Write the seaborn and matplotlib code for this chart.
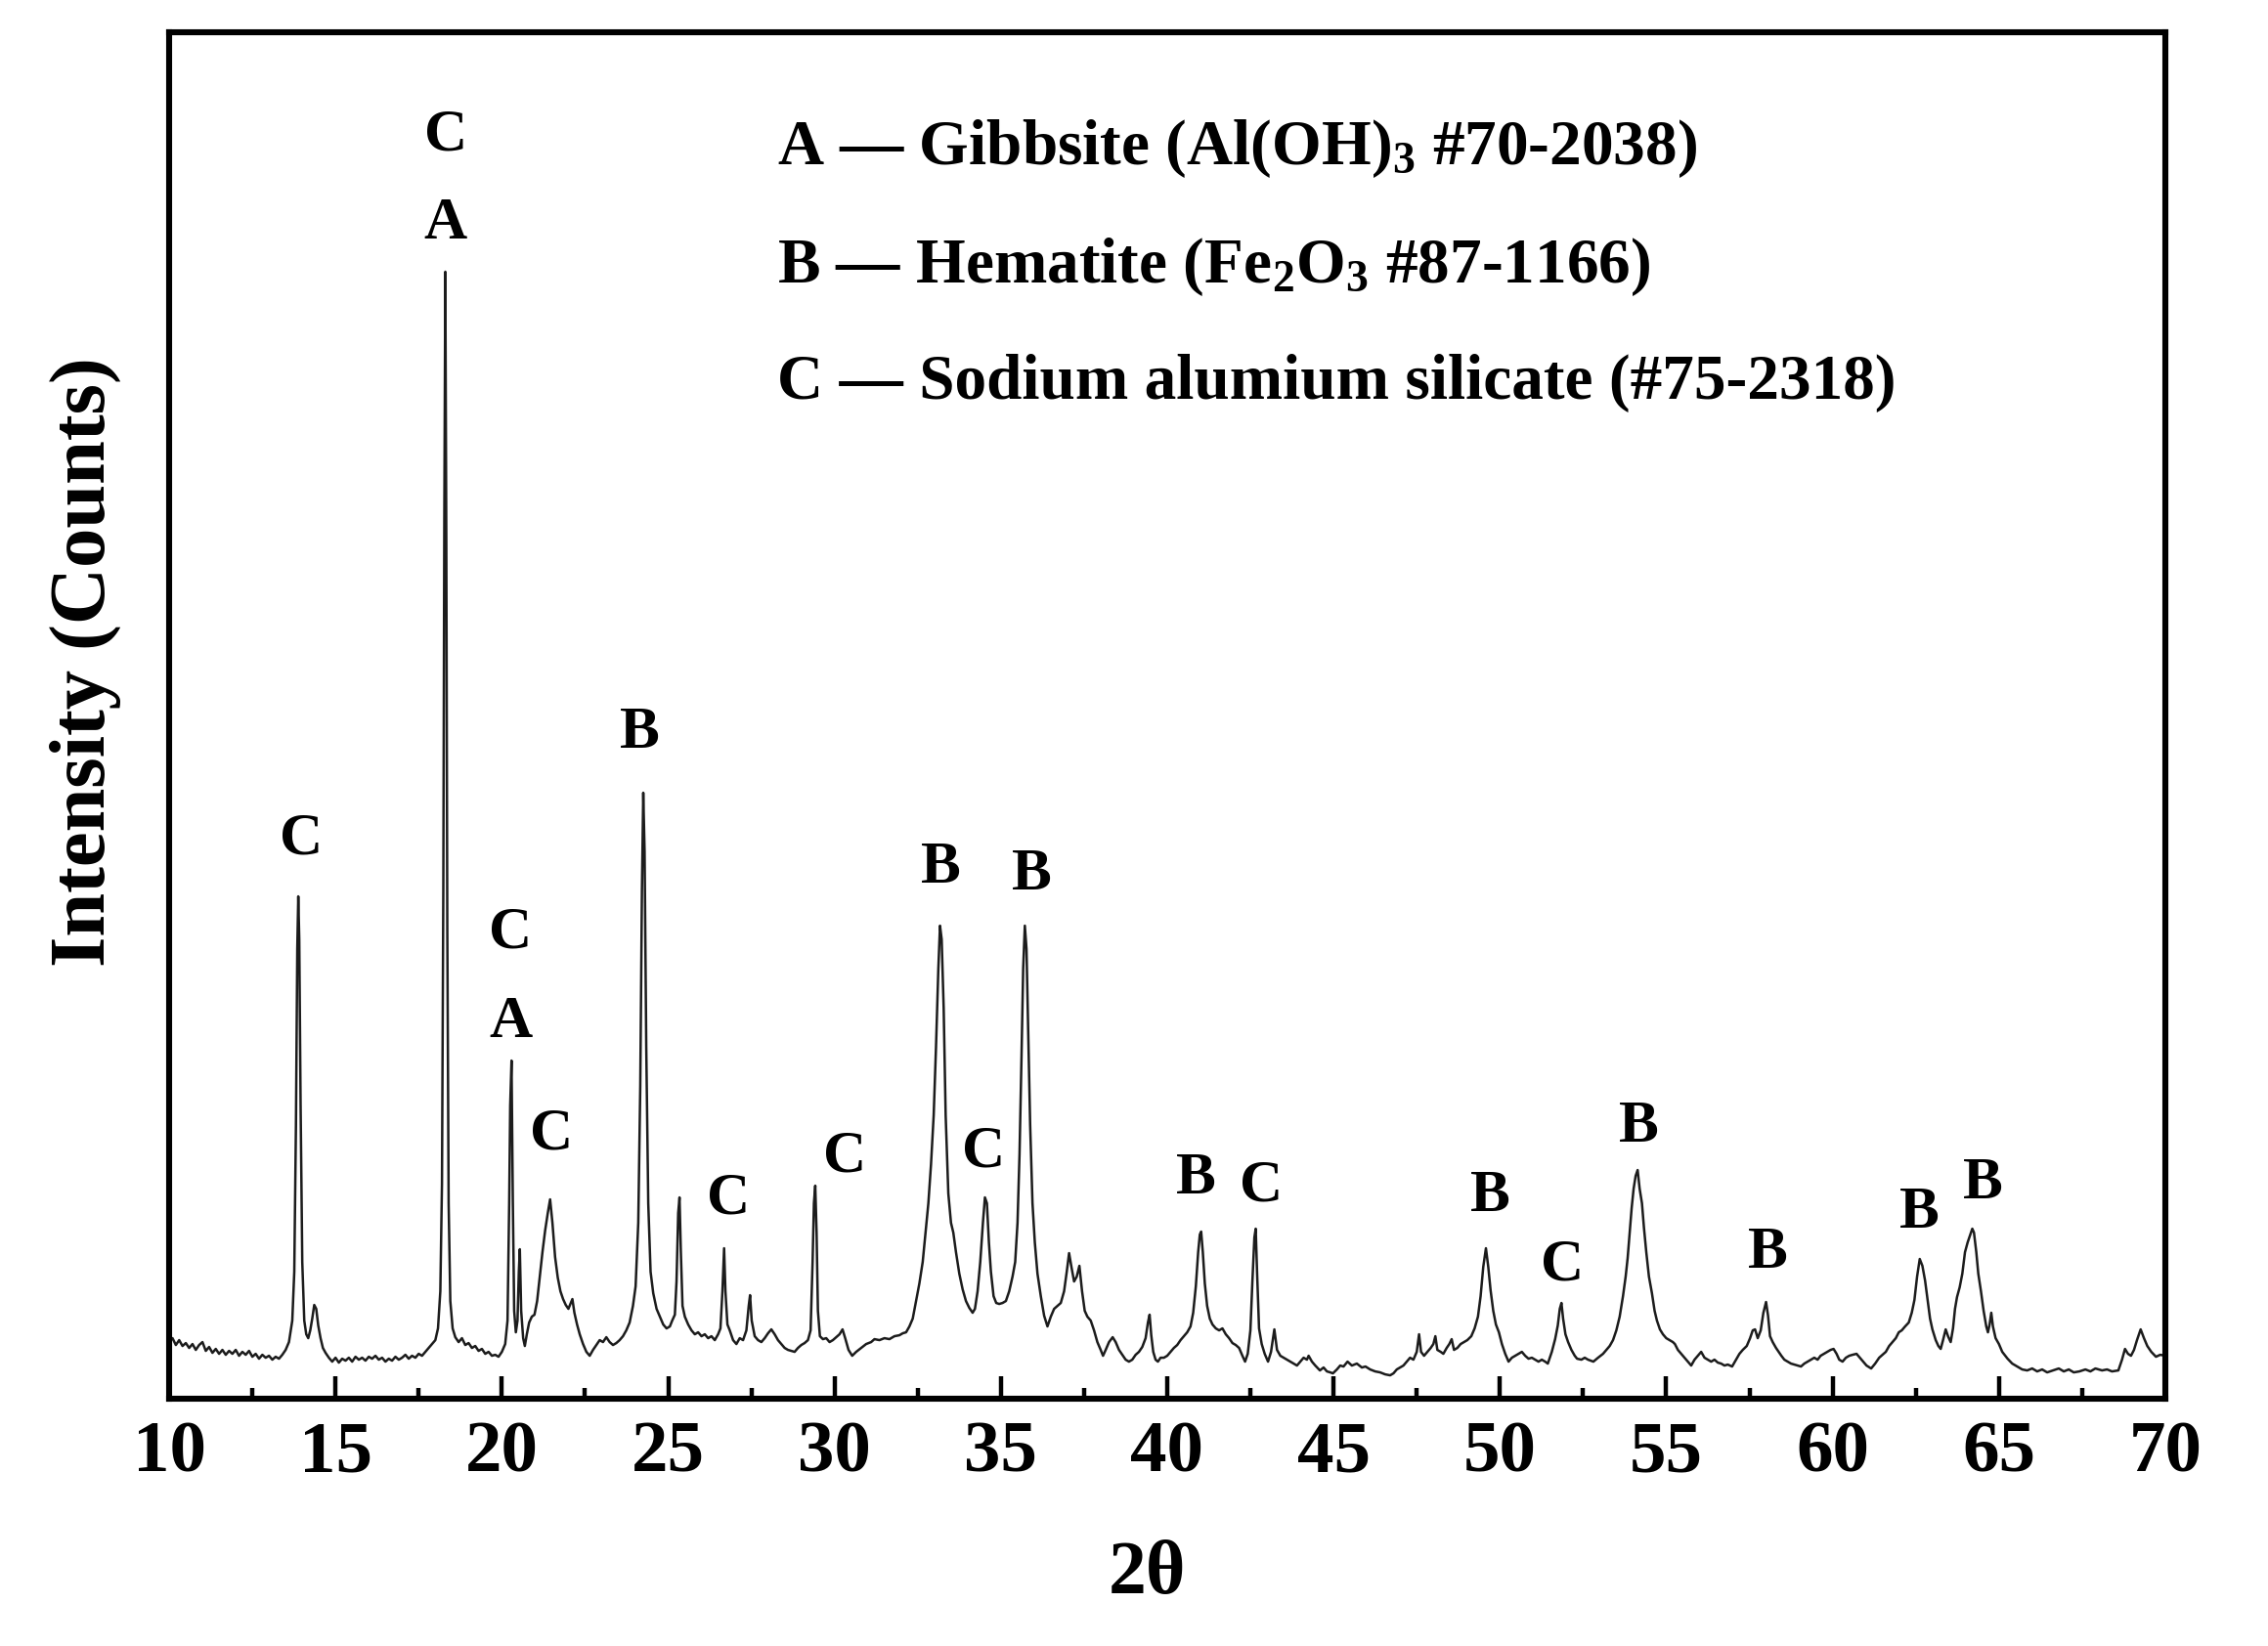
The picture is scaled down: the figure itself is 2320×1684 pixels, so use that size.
import matplotlib
matplotlib.use('Agg')
import matplotlib.pyplot as plt
from matplotlib.ticker import MultipleLocator
import seaborn as sns

# XRD pattern (2theta in degrees, intensity in arbitrary counts)
two_theta = [
    10.0, 10.1, 10.2, 10.3, 10.4, 10.5, 10.6, 10.7, 10.8, 10.9,
    11.0, 11.1, 11.2, 11.3, 11.4, 11.5, 11.6, 11.7, 11.8, 11.9,
    12.0, 12.1, 12.2, 12.3, 12.4, 12.5, 12.6, 12.7, 12.8, 12.9,
    13.0, 13.1, 13.2, 13.3, 13.4, 13.5, 13.6, 13.7, 13.76, 13.81,
    13.85, 13.88, 13.91, 13.95, 14.0, 14.06, 14.12, 14.18, 14.24, 14.3,
    14.36, 14.42, 14.48, 14.55, 14.62, 14.7, 14.8, 14.9, 15.0, 15.1,
    15.2, 15.3, 15.4, 15.5, 15.6, 15.7, 15.8, 15.9, 16.0, 16.1,
    16.2, 16.3, 16.4, 16.5, 16.6, 16.7, 16.8, 16.9, 17.0, 17.1,
    17.2, 17.3, 17.4, 17.5, 17.6, 17.7, 17.8, 17.9, 18.0, 18.08,
    18.15, 18.2, 18.24, 18.27, 18.3, 18.33, 18.36, 18.4, 18.45, 18.52,
    18.6, 18.7, 18.8, 18.9, 19.0, 19.1, 19.2, 19.3, 19.4, 19.5,
    19.6, 19.7, 19.8, 19.9, 20.0, 20.1, 20.17, 20.22, 20.25, 20.29,
    20.33, 20.37, 20.42, 20.47, 20.51, 20.54, 20.58, 20.64, 20.69, 20.75,
    20.82, 20.9, 20.98, 21.06, 21.14, 21.22, 21.3, 21.38, 21.45, 21.52,
    21.6, 21.68, 21.76, 21.84, 21.92, 22.0, 22.07, 22.12, 22.18, 22.26,
    22.34, 22.44, 22.54, 22.64, 22.74, 22.84, 22.94, 23.04, 23.14, 23.24,
    23.34, 23.44, 23.54, 23.64, 23.74, 23.84, 23.94, 24.02, 24.1, 24.16,
    24.21, 24.25, 24.29, 24.34, 24.4, 24.47, 24.55, 24.65, 24.75, 24.85,
    24.95, 25.05, 25.12, 25.2, 25.25, 25.3, 25.34, 25.38, 25.43, 25.5,
    25.6, 25.7, 25.8, 25.9, 26.0, 26.1, 26.2, 26.3, 26.4, 26.5,
    26.57, 26.63, 26.68, 26.72, 26.78, 26.85, 26.95, 27.05, 27.15, 27.25,
    27.35, 27.42, 27.46, 27.51, 27.6, 27.7, 27.8, 27.9, 28.0, 28.1,
    28.2, 28.3, 28.4, 28.5, 28.6, 28.7, 28.8, 28.9, 29.0, 29.1,
    29.2, 29.28, 29.34, 29.38, 29.42, 29.46, 29.5, 29.56, 29.65, 29.75,
    29.85, 29.95, 30.05, 30.15, 30.24, 30.32, 30.42, 30.53, 30.65, 30.8,
    30.95, 31.1, 31.2, 31.35, 31.5, 31.65, 31.8, 31.95, 32.05, 32.15,
    32.25, 32.35, 32.45, 32.55, 32.65, 32.73, 32.82, 32.9, 32.98, 33.05,
    33.12, 33.17, 33.22, 33.28, 33.34, 33.42, 33.5, 33.57, 33.65, 33.75,
    33.85, 33.95, 34.05, 34.15, 34.22, 34.3, 34.38, 34.46, 34.52, 34.58,
    34.64, 34.7, 34.78, 34.86, 34.95, 35.05, 35.15, 35.25, 35.35, 35.43,
    35.5, 35.56, 35.62, 35.67, 35.72, 35.77, 35.82, 35.88, 35.95, 36.02,
    36.1, 36.2, 36.3, 36.4, 36.5, 36.6, 36.7, 36.8, 36.9, 36.98,
    37.05, 37.12, 37.2, 37.28, 37.36, 37.44, 37.52, 37.6, 37.7, 37.8,
    37.9, 38.0, 38.07, 38.15, 38.25, 38.36, 38.45, 38.55, 38.65, 38.75,
    38.85, 38.95, 39.05, 39.15, 39.25, 39.35, 39.42, 39.47, 39.52, 39.58,
    39.65, 39.72, 39.8, 39.9, 40.0, 40.1, 40.2, 40.3, 40.4, 40.5,
    40.6, 40.7, 40.78, 40.86, 40.93, 40.98, 41.02, 41.07, 41.13, 41.2,
    41.28, 41.36, 41.46, 41.56, 41.66, 41.76, 41.86, 41.96, 42.06, 42.16,
    42.26, 42.34, 42.42, 42.5, 42.56, 42.62, 42.66, 42.7, 42.76, 42.84,
    42.93, 43.03, 43.12, 43.22, 43.3, 43.4, 43.5, 43.6, 43.7, 43.8,
    43.9, 44.0, 44.1, 44.2, 44.25, 44.35, 44.45, 44.59, 44.7, 44.8,
    44.9, 44.98, 45.1, 45.2, 45.3, 45.42, 45.55, 45.7, 45.85, 45.96,
    46.1, 46.25, 46.4, 46.55, 46.7, 46.8, 46.9, 47.0, 47.1, 47.2,
    47.3, 47.4, 47.5, 47.57, 47.63, 47.72, 47.82, 47.92, 48.0, 48.06,
    48.12, 48.22, 48.3, 48.4, 48.48, 48.55, 48.62, 48.72, 48.82, 48.92,
    49.02, 49.14, 49.24, 49.34, 49.42, 49.5, 49.58, 49.65, 49.72, 49.8,
    49.88, 49.97, 50.06, 50.16, 50.26, 50.36, 50.46, 50.56, 50.66, 50.76,
    50.86, 50.96, 51.06, 51.16, 51.26, 51.36, 51.44, 51.56, 51.66, 51.74,
    51.8, 51.85, 51.9, 51.97, 52.05, 52.15, 52.25, 52.32, 52.45, 52.55,
    52.65, 52.81, 52.95, 53.1, 53.2, 53.3, 53.4, 53.5, 53.6, 53.7,
    53.78, 53.84, 53.9, 53.96, 54.02, 54.08, 54.14, 54.2, 54.27, 54.33,
    54.4, 54.48, 54.57, 54.65, 54.72, 54.81, 54.9, 55.0, 55.1, 55.2,
    55.26, 55.35, 55.45, 55.55, 55.65, 55.75, 55.85, 55.95, 56.05, 56.15,
    56.25, 56.35, 56.45, 56.55, 56.65, 56.75, 56.85, 56.98, 57.1, 57.2,
    57.3, 57.42, 57.52, 57.6, 57.67, 57.75, 57.84, 57.92, 58.0, 58.06,
    58.12, 58.2, 58.3, 58.38, 58.46, 58.55, 58.65, 58.75, 58.85, 58.95,
    59.05, 59.15, 59.25, 59.35, 59.45, 59.55, 59.64, 59.74, 59.84, 59.94,
    60.03, 60.12, 60.2, 60.3, 60.4, 60.5, 60.6, 60.72, 60.82, 60.92,
    61.02, 61.16, 61.28, 61.4, 61.5, 61.6, 61.7, 61.8, 61.9, 61.99,
    62.08, 62.18, 62.29, 62.38, 62.46, 62.54, 62.62, 62.7, 62.78, 62.86,
    62.93, 63.0, 63.1, 63.18, 63.25, 63.32, 63.4, 63.47, 63.55, 63.62,
    63.68, 63.74, 63.82, 63.9, 63.98, 64.06, 64.14, 64.2, 64.25, 64.32,
    64.38, 64.46, 64.54, 64.62, 64.67, 64.72, 64.77, 64.82, 64.9, 65.0,
    65.1, 65.26, 65.4, 65.55, 65.7, 65.85, 66.0, 66.15, 66.3, 66.45,
    66.63, 66.8, 66.95, 67.1, 67.25, 67.42, 67.6, 67.75, 67.9, 68.1,
    68.25, 68.4, 68.59, 68.7, 68.79, 68.88, 68.97, 69.06, 69.15, 69.26,
    69.36, 69.46, 69.58, 69.72, 69.85, 70.0,
]
counts = [
    58, 62, 55, 60, 54, 57, 52, 56, 50, 55,
    58, 49, 53, 47, 51, 46, 50, 45, 49, 46,
    50, 44, 48, 45, 49, 43, 46, 41, 45, 42,
    44, 40, 43, 41, 45, 50, 58, 80, 130, 280,
    460, 514, 470, 300, 140, 80, 66, 62, 70, 82,
    96, 92, 75, 62, 52, 47, 42, 38, 42, 37,
    41, 39, 42, 38, 43, 40, 42, 39, 43, 41,
    44, 40, 42, 38, 41, 39, 43, 40, 42, 45,
    41, 44, 42, 46, 44, 48, 52, 56, 60, 72,
    110, 220, 520, 900, 1153, 880, 480, 200, 100, 72,
    63, 58, 62, 55, 57, 52, 54, 49, 51, 46,
    48, 44, 45, 43, 48, 56, 80, 200, 300, 346,
    200, 90, 68, 80, 130, 153, 90, 62, 54, 66,
    78, 84, 86, 100, 125, 150, 172, 190, 204, 180,
    145, 124, 110, 102, 96, 92, 98, 102, 88, 76,
    66, 56, 48, 44, 50, 55, 60, 58, 63, 58,
    55, 57, 60, 64, 70, 78, 95, 115, 180, 320,
    520, 620, 560, 360, 200, 130, 108, 92, 84, 76,
    72, 74, 80, 86, 120, 190, 206, 150, 95, 84,
    76, 70, 66, 68, 64, 66, 62, 64, 60, 66,
    72, 110, 154, 110, 76, 70, 60, 56, 62, 60,
    70, 95, 106, 80, 64, 60, 58, 62, 67, 71,
    66, 60, 56, 52, 50, 49, 48, 52, 55, 57,
    60, 70, 140, 200, 218, 170, 90, 64, 61, 62,
    58, 60, 63, 66, 71, 62, 50, 44, 48, 52,
    56, 58, 61, 60, 62, 61, 64, 65, 67, 68,
    74, 82, 100, 118, 140, 168, 200, 240, 290, 360,
    440, 484, 470, 400, 290, 210, 180, 170, 150, 128,
    112, 100, 93, 88, 92, 110, 140, 180, 206, 200,
    160, 130, 105, 98, 97, 98, 100, 110, 125, 140,
    180, 250, 350, 440, 484, 460, 380, 280, 200, 160,
    128, 105, 85, 74, 84, 92, 95, 98, 110, 130,
    149, 135, 120, 125, 136, 110, 90, 84, 80, 70,
    58, 50, 44, 50, 58, 63, 58, 50, 45, 40,
    38, 40, 45, 48, 53, 62, 78, 86, 65, 48,
    40, 38, 42, 42, 44, 48, 52, 55, 60, 64,
    68, 74, 88, 115, 150, 168, 171, 150, 118, 95,
    82, 76, 72, 70, 72, 66, 62, 57, 55, 52,
    44, 38, 46, 70, 120, 165, 174, 130, 72, 56,
    46, 38, 48, 71, 50, 44, 42, 40, 38, 36,
    34, 38, 42, 40, 44, 38, 34, 29, 32, 28,
    27, 26, 30, 34, 33, 38, 34, 36, 32, 33,
    30, 28, 27, 25, 24, 26, 30, 32, 34, 38,
    42, 40, 48, 66, 48, 44, 48, 52, 56, 64,
    50, 48, 46, 52, 56, 61, 50, 52, 56, 58,
    60, 64, 72, 84, 105, 135, 154, 135, 111, 90,
    76, 68, 56, 46, 38, 42, 44, 46, 48, 44,
    41, 42, 40, 38, 40, 38, 36, 48, 61, 75,
    92, 98, 82, 66, 58, 50, 44, 41, 40, 42,
    40, 38, 42, 46, 50, 54, 60, 70, 84, 105,
    125, 144, 170, 195, 215, 228, 234, 215, 200, 175,
    150, 125, 108, 90, 80, 71, 66, 62, 60, 58,
    56, 50, 46, 42, 38, 34, 40, 44, 48, 42,
    40, 38, 40, 37, 36, 34, 35, 33, 40, 46,
    50, 54, 62, 70, 71, 62, 70, 88, 99, 85,
    64, 58, 52, 48, 44, 40, 38, 36, 35, 34,
    33, 36, 38, 40, 42, 40, 44, 46, 48, 50,
    51, 46, 40, 38, 42, 44, 45, 46, 42, 38,
    34, 31, 36, 42, 45, 48, 54, 58, 62, 68,
    70, 74, 78, 88, 101, 125, 143, 136, 121, 100,
    82, 71, 60, 54, 51, 60, 71, 64, 58, 72,
    92, 104, 114, 128, 150, 160, 168, 174, 170, 150,
    128, 110, 90, 74, 68, 76, 88, 74, 62, 56,
    48, 41, 36, 33, 30, 29, 31, 28, 30, 27,
    29, 31, 28, 30, 27, 28, 30, 28, 31, 29,
    30, 28, 29, 40, 51, 46, 44, 50, 60, 71,
    62, 54, 48, 43, 45, 44,
]

# phase letters over the peaks
peak_letters = ['C', 'C', 'A', 'C', 'A', 'C', 'B', 'C', 'C', 'B',
                'C', 'B', 'B', 'C', 'B', 'C', 'B', 'B', 'B', 'B']
letter_x = [13.96, 18.31, 18.31, 20.26, 20.26, 21.5, 24.13, 26.82, 30.3, 33.18,
            34.47, 35.92, 40.85, 42.83, 49.72, 51.86, 54.18, 58.05, 62.61, 64.52]
letter_y = [573, 1293, 1202, 477, 385, 271, 681, 205, 248, 543,
            253, 536, 225, 218, 207, 137, 278, 149, 190, 220]

legend_lines = [
    'A \u2014 Gibbsite (Al(OH)$_3$ #70-2038)',
    'B \u2014 Hematite (Fe$_2$O$_3$ #87-1166)',
    'C \u2014 Sodium alumium silicate (#75-2318)',
]
legend_y = [0.915, 0.828, 0.743]

assert len(two_theta) == len(counts)

sns.set_theme(style='ticks')
plt.rcParams['font.family'] = ['Liberation Serif', 'DejaVu Serif']
plt.rcParams['font.weight'] = 'bold'
plt.rcParams['text.color'] = 'black'
plt.rcParams['axes.labelcolor'] = 'black'
plt.rcParams['xtick.color'] = 'black'
plt.rcParams['xtick.labelcolor'] = 'black'
plt.rcParams['mathtext.fontset'] = 'custom'
plt.rcParams['mathtext.rm'] = 'Liberation Serif:bold'
plt.rcParams['mathtext.bf'] = 'Liberation Serif:bold'
plt.rcParams['mathtext.it'] = 'Liberation Serif:bold:italic'
plt.rcParams['mathtext.default'] = 'bf'

fig = plt.figure(figsize=(11.6, 8.42), dpi=200)
ax = fig.add_axes([0.0746, 0.1502, 0.8801, 0.8302])

sns.lineplot(x=two_theta, y=counts, ax=ax, estimator=None, sort=False,
             color='#1c1c1c', linewidth=0.9)

ax.set_xlim(10, 70)
ax.set_ylim(0, 1398)
ax.xaxis.set_major_locator(MultipleLocator(5))
ax.xaxis.set_minor_locator(MultipleLocator(2.5))
ax.set_yticks([])
ax.tick_params(axis='x', which='major', direction='in', length=8.3, width=1.6,
               labelsize=27, pad=8, top=False, color='black', labelcolor='black')
ax.tick_params(axis='x', which='minor', direction='in', length=4, width=1.6,
               top=False, color='black')
for lbl in ax.get_xticklabels():
    lbl.set_fontweight('bold')

for side in ['left', 'right', 'top', 'bottom']:
    ax.spines[side].set_visible(True)
    ax.spines[side].set_color('black')
    ax.spines[side].set_linewidth(2.2)

ax.set_xlabel('2\u03b8', fontsize=28, fontweight='bold', color='black')
ax.xaxis.set_label_coords(0.49, -0.1037)
ax.set_ylabel('Intensity (Counts)', fontsize=29, fontweight='bold', color='black')
ax.yaxis.set_label_coords(-0.024, 0.539)

for letter, lx, ly in zip(peak_letters, letter_x, letter_y):
    ax.text(lx, ly, letter, ha='center', va='center', fontsize=22,
            fontweight='bold', color='black')

for line, ly in zip(legend_lines, legend_y):
    ax.text(0.3046, ly, line, transform=ax.transAxes, ha='left', va='center',
            fontsize=23.5, fontweight='bold', color='black')

fig.savefig('out.png', dpi=200, facecolor='white')
